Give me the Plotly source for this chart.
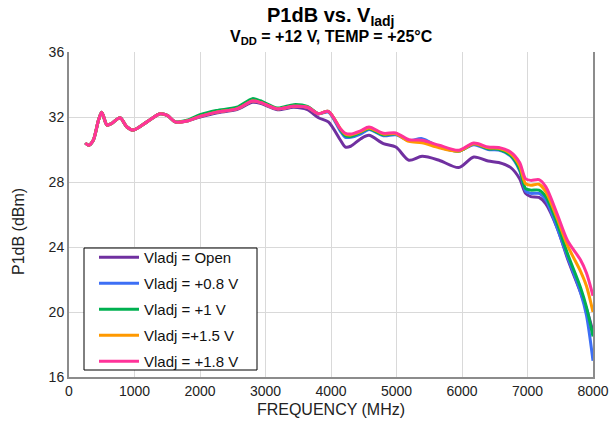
import plotly.graph_objects as go

freq = [250, 300, 370, 450, 500, 580, 650, 780, 880, 980, 1190, 1390, 1500, 1620, 1800,
        2000, 2250, 2560, 2800, 2920, 3180, 3430, 3640, 3810, 3960, 4140, 4220, 4300, 4450,
        4580, 4800, 4990, 5190, 5390, 5650, 5950, 6180, 6400, 6560, 6740, 6880, 6970, 7050,
        7175, 7280, 7450, 7610, 7810, 7900, 8000]

p_open = [30.4, 30.26, 30.55, 31.8, 32.3, 31.5, 31.6, 31.95, 31.4, 31.2, 31.7, 32.2, 32.1, 31.7, 31.75,
          32.0, 32.25, 32.45, 32.9, 32.85, 32.45, 32.6, 32.45, 31.95, 31.7, 30.6, 30.15, 30.2, 30.65,
          30.87, 30.36, 30.15, 29.34, 29.58, 29.34, 28.89, 29.54, 29.29, 29.2, 28.9, 28.2, 27.3, 27.1,
          27.05, 26.65, 25.2, 23.3, 21.2, 20.2, 18.8]

p_08 = [30.4, 30.26, 30.57, 31.8, 32.3, 31.5, 31.6, 31.96, 31.4, 31.2, 31.7, 32.2, 32.1, 31.7, 31.75,
        32.04, 32.3, 32.5, 32.98, 32.9, 32.5, 32.66, 32.6, 32.2, 32.3, 31.15, 30.75, 30.75, 30.95,
        31.23, 30.85, 30.9, 30.55, 30.67, 30.16, 29.9, 30.3, 30.0, 29.97, 29.6, 28.7, 27.45, 27.3,
        27.3, 26.9, 25.2, 23.4, 21.2, 19.8, 17.0]

p_1 = [30.4, 30.26, 30.57, 31.8, 32.3, 31.5, 31.6, 31.96, 31.4, 31.2, 31.7, 32.2, 32.1, 31.7, 31.8,
       32.14, 32.4, 32.6, 33.13, 33.0, 32.55, 32.76, 32.65, 32.2, 32.35, 31.25, 30.85, 30.8, 31.05,
       31.28, 30.9, 30.97, 30.55, 30.52, 30.21, 29.9, 30.35, 30.05, 30.02, 29.65, 28.8, 27.6, 27.5,
       27.5, 27.1, 25.5, 23.6, 21.5, 20.3, 18.5]

p_15 = [30.4, 30.26, 30.57, 31.8, 32.3, 31.5, 31.6, 31.96, 31.4, 31.2, 31.7, 32.2, 32.1, 31.7, 31.75,
        32.04, 32.3, 32.5, 32.98, 32.9, 32.5, 32.66, 32.6, 32.2, 32.35, 31.3, 30.95, 30.9, 31.1,
        31.33, 30.95, 30.97, 30.5, 30.42, 30.11, 29.9, 30.35, 30.1, 30.07, 29.75, 29.0, 27.9, 27.8,
        27.86, 27.4, 25.8, 24.1, 22.5, 21.6, 20.0]

p_18 = [30.4, 30.26, 30.57, 31.8, 32.3, 31.5, 31.6, 31.96, 31.4, 31.2, 31.7, 32.2, 32.1, 31.7, 31.75,
        32.04, 32.3, 32.5, 32.98, 32.9, 32.5, 32.66, 32.6, 32.2, 32.35, 31.3, 31.0, 30.95, 31.15,
        31.38, 31.0, 31.02, 30.6, 30.57, 30.26, 29.95, 30.4, 30.15, 30.12, 29.85, 29.2, 28.2, 28.1,
        28.15, 27.7, 26.06, 24.4, 23.2, 22.4, 21.0]

names = ["Vladj = Open", "Vladj = +0.8 V", "Vladj = +1 V", "Vladj =+1.5 V", "Vladj = +1.8 V"]
colors = ["#7030a0", "#3d6ff5", "#00b050", "#ff9900", "#ff3399"]
series = [p_open, p_08, p_1, p_15, p_18]

fig = go.Figure()
for i, (nm, col, ys) in enumerate(zip(names, colors, series)):
    fig.add_trace(go.Scatter(x=freq, y=ys, name=nm, mode="lines",
                             line=dict(color=col, width=3, shape="spline", smoothing=0.8),
                             legendgroup=str(i)))

W, H = 611, 428
ML, MR, MT, MB = 69, 18, 52, 51
PW, PH = W - ML - MR, H - MT - MB


def px_x(px):
    return (px - ML) / PW


def px_y(py):
    return (H - MB - py) / PH


font_family = "Liberation Sans, Arial, sans-serif"
fig.update_layout(
    width=W, height=H,
    margin=dict(l=ML, r=MR, t=MT, b=MB, autoexpand=False),
    paper_bgcolor="white", plot_bgcolor="white",
    font=dict(family=font_family, size=14, color="#222"),
    showlegend=True,
    legend=dict(x=px_x(94), y=px_y(241), xanchor="left", yanchor="top",
                bgcolor="rgba(0,0,0,0)", borderwidth=0,
                font=dict(size=15, color="#111"), itemwidth=40,
                tracegroupgap=3.5),
    shapes=[dict(type="rect", xref="paper", yref="paper",
                 x0=px_x(84), x1=px_x(257), y0=px_y(370), y1=px_y(248),
                 fillcolor="white", line=dict(color="black", width=1), layer="above")],
    xaxis=dict(range=[0, 8000], tickvals=[0, 1000, 2000, 3000, 4000, 5000, 6000, 7000, 8000],
               showgrid=True, gridcolor="#d9d9d9", gridwidth=1, automargin=False,
               showline=True, linecolor="#8c8c8c", linewidth=2, mirror=False,
               ticks="", zeroline=False, tickfont=dict(size=14),
               title=dict(text="FREQUENCY (MHz)", font=dict(size=16), standoff=6)),
    yaxis=dict(range=[16, 36], tickvals=[16, 20, 24, 28, 32, 36],
               showgrid=True, gridcolor="#d9d9d9", gridwidth=1, automargin=False,
               showline=True, linecolor="#8c8c8c", linewidth=2, mirror=True,
               ticks="", zeroline=False, tickfont=dict(size=14)),
    annotations=[
        dict(text="<b>P1dB vs. V<sub>Iadj</sub></b>", x=0.5, y=1, xref="paper", yref="paper",
             xanchor="center", yanchor="bottom", yshift=21, showarrow=False,
             font=dict(size=20, color="black")),
        dict(text="<b>V<sub>DD</sub> = +12 V, TEMP = +25°C</b>", x=0.5, y=1, xref="paper", yref="paper",
             xanchor="center", yanchor="bottom", yshift=3, showarrow=False,
             font=dict(size=16, color="black")),
        dict(text="P1dB (dBm)", x=0, y=px_y(232), xref="paper", yref="paper",
             xanchor="center", yanchor="middle", xshift=-(ML - 18), textangle=-90,
             showarrow=False, font=dict(size=16, color="#222")),
    ],
)

fig.write_html("out.html")
